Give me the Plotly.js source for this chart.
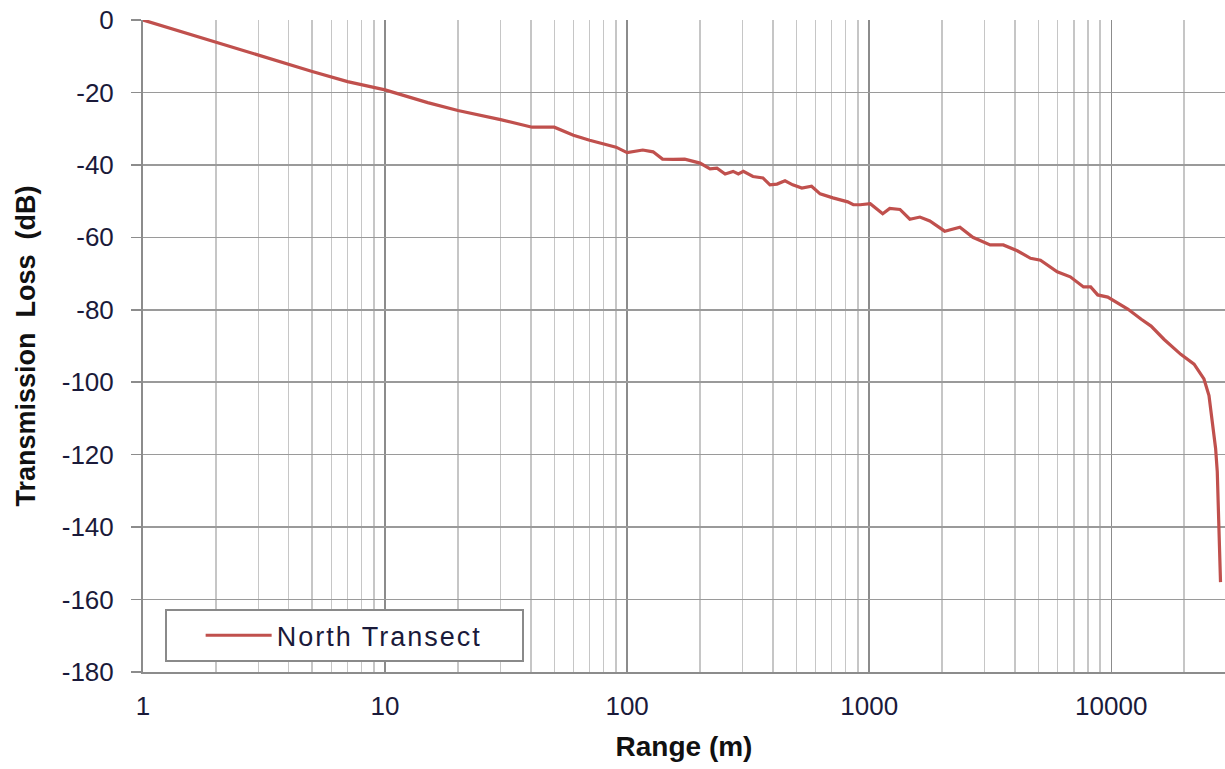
<!DOCTYPE html>
<html>
<head>
<meta charset="utf-8">
<script src="https://cdn.plot.ly/plotly-3.0.1.min.js"></script>
<style>
html,body{margin:0;padding:0;background:#fff;}
#chart{width:1225px;height:769px;}
.legendtext{letter-spacing:2px;}
.legendlines path{d:path("M5,0h66");}
</style>
</head>
<body>
<div id="chart"></div>
<script>
const seriesName = 'North Transect';
const rangeM = [1, 2, 3, 5, 7, 10, 15, 20, 30, 40.5, 50, 60, 70, 81, 90, 100, 116, 128, 140, 155, 173, 200, 220, 235, 254, 274, 288, 302, 331, 364, 389, 416, 449, 483, 527, 578, 627, 708, 815, 860, 918, 1010, 1137, 1216, 1340, 1472, 1620, 1780, 2050, 2370, 2680, 3160, 3580, 4090, 4640, 5100, 5980, 6770, 7680, 8220, 8790, 9670, 10650, 11700, 13300, 14600, 16540, 19370, 21980, 24150, 25330, 26140, 26980, 27410, 27860, 28120, 28270];
const lossDb = [0, -6.2, -9.6, -14.2, -17, -19.3, -22.8, -25, -27.5, -29.6, -29.6, -31.8, -33.2, -34.3, -35.1, -36.6, -35.9, -36.4, -38.4, -38.5, -38.4, -39.5, -41.1, -40.9, -42.5, -41.8, -42.5, -41.8, -43.2, -43.6, -45.5, -45.3, -44.4, -45.5, -46.4, -45.9, -48, -49.1, -50.2, -51.0, -51.0, -50.7, -53.5, -52, -52.3, -55, -54.4, -55.5, -58.3, -57.2, -60, -62.1, -62.1, -63.7, -65.8, -66.3, -69.5, -70.9, -73.7, -73.7, -75.9, -76.5, -78.1, -79.8, -82.6, -84.5, -88.2, -92.3, -95, -99.1, -103.7, -111, -118.3, -124.7, -141, -150.2, -155.2];
const xTickVals = [1, 10, 100, 1000, 10000];
const xTickText = ['1', '10', '100', '1000', '10000'];
const xMinorVals = [2,3,4,5,6,7,8,9,20,30,40,50,60,70,80,90,200,300,400,500,600,700,800,900,2000,3000,4000,5000,6000,7000,8000,9000,20000,30000];
const xMax = 29500;
const yTickVals = [0, -20, -40, -60, -80, -100, -120, -140, -160, -180];
const yTickText = ['0', '-20', '-40', '-60', '-80', '-100', '-120', '-140', '-160', '-180'];
const yMin = -180, yMax = 0;

const font = 'Liberation Sans, Arial, sans-serif';
const textColor = '#1a1a3a';
const trace = {
  x: rangeM, y: lossDb, type: 'scatter', mode: 'lines', name: seriesName,
  line: {color: '#C0504D', width: 3.2}
};
const layout = {
  width: 1225, height: 769,
  margin: {l: 143, r: 0, t: 20, b: 97},
  paper_bgcolor: '#fff', plot_bgcolor: '#fff',
  font: {family: font, size: 26, color: textColor},
  showlegend: true,
  legend: {
    x: 0.02, y: 0.015, xanchor: 'left', yanchor: 'bottom',
    orientation: 'h', entrywidth: 240, indentation: 34,
    itemwidth: 66,
    bgcolor: '#fff', bordercolor: '#8a8a8a', borderwidth: 2,
    font: {family: font, size: 27, color: textColor}
  },
  xaxis: {
    type: 'log', range: [0, Math.log10(xMax)],
    tickmode: 'array', tickvals: xTickVals, ticktext: xTickText,
    showgrid: true, gridcolor: '#8c8c8c', gridwidth: 1.5,
    minor: {tickmode: 'array', tickvals: xMinorVals, showgrid: true, gridcolor: '#c6c6c6', gridwidth: 1.5, ticks: ''},
    showline: true, linecolor: '#8c8c8c', linewidth: 2,
    ticks: '', ticklen: 0, ticklabelstandoff: 10,
    tickfont: {family: font, size: 26, color: textColor},
    title: {text: 'Range (m)', font: {family: font, size: 28, color: '#111', weight: 'bold'}, standoff: 16},
    zeroline: false, automargin: false
  },
  yaxis: {
    range: [yMin, yMax], tickmode: 'array', tickvals: yTickVals, ticktext: yTickText,
    showgrid: true, gridcolor: '#9a9a9a', gridwidth: 1.5,
    showline: true, linecolor: '#8c8c8c', linewidth: 2,
    ticks: 'outside', ticklen: 10, tickcolor: '#8c8c8c', tickwidth: 1.5,
    ticklabelstandoff: 12,
    tickfont: {family: font, size: 26, color: textColor},
    title: {text: 'Transmission&nbsp; Loss&nbsp; (dB)', font: {family: font, size: 27, color: '#111', weight: 'bold'}, standoff: 18},
    zeroline: false, automargin: false
  }
};
Plotly.newPlot('chart', [trace], layout, {displayModeBar: false, staticPlot: true});
</script>
</body>
</html>
